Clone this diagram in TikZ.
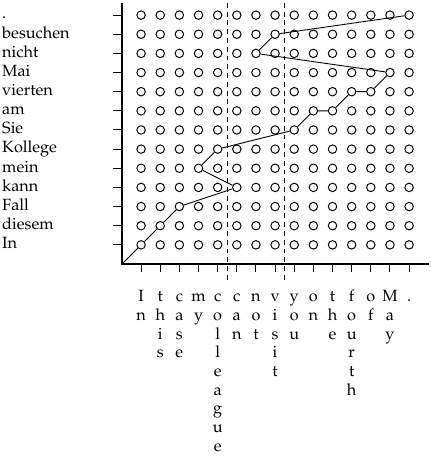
\documentclass[tikz,border=0pt]{standalone}
\usepackage[T1]{fontenc}
\usepackage{mathpazo}
\usepackage{tikz}

\begin{document}
\begin{tikzpicture}[x=0.414cm, y=0.414cm,
    every node/.style={inner sep=0pt, font=\fontsize{10}{11.5}\selectfont},
    dot/.style={circle, draw, line width=0.6pt, minimum size=5.2pt},
    axis/.style={line width=1.2pt},
    tick/.style={line width=0.6pt},
    phrase/.style={line width=0.6pt, dash pattern=on 3pt off 2.4pt}]
        \useasboundingbox (-6.37,-10.03) rectangle (16.14,13.79);

        % Alignment points
        \foreach \i in {0,...,14}
            \foreach \j in {0,...,12}
                \node[dot] (c-\i-\j) at (\i+1,\j+1) {};

        % Axes and ticks
        \coordinate (o) at (0,0);
        \draw[axis] (0,13.64) -- (o) -- (16.04,0);
        \foreach \j in {1,...,13}
            \draw[tick] (-0.47,\j) -- (0,\j);
        \foreach \i in {1,...,15}
            \draw[tick] (\i,0) -- (\i,-0.42);

        % Phrase boundaries
        \draw[phrase] (5.5,13.64) -- (5.5,-0.99);
        \draw[phrase] (8.5,13.64) -- (8.5,-0.99);

        % Source words
        \foreach \w [count=\j] in {In,diesem,Fall,kann,mein,Kollege,Sie,am,vierten,Mai,nicht,besuchen,.}
            \node[anchor=mid west] (src-\j) at (-6.27,\j) {\w};

        % Target words
        \foreach \w [count=\i] in {{I\\n},{t\\h\\i\\s},{c\\a\\s\\e},{m\\y},{c\\o\\l\\l\\e\\a\\g\\u\\e},{c\\a\\n},{n\\o\\t},{v\\i\\s\\i\\t},{y\\o\\u},{o\\n},{t\\h\\e},{f\\o\\u\\r\\t\\h},{o\\f},{M\\a\\y},{.}}
            \node[anchor=north, align=center] (trg-\i) at (\i,-1.27) {\strut\w};

        % Alignment path
        \draw[line width=0.55pt] (o) -- (c-0-0) -- (c-1-1) -- (c-2-2) -- (c-5-3) -- (c-3-4) -- (c-4-5)
            -- (c-8-6) -- (c-9-7) -- (c-10-7) -- (c-11-8) -- (c-12-8) -- (c-13-9)
            -- (c-6-10) -- (c-7-11) -- (c-14-12);
    \end{tikzpicture}
\end{document}
